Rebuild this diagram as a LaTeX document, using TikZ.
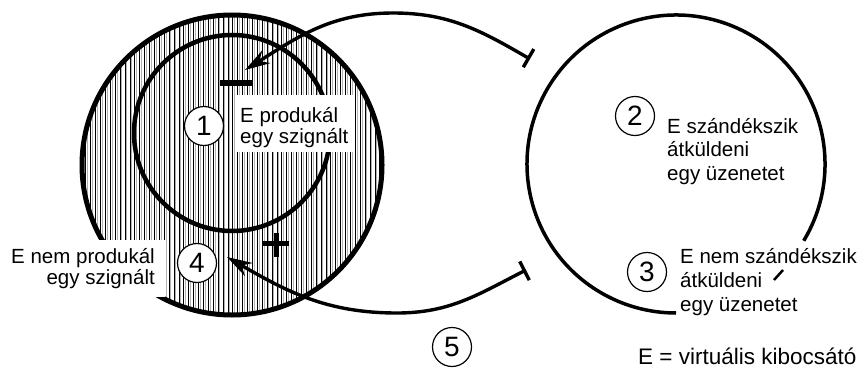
\documentclass[tikz,border=0pt]{standalone}
\usepackage{fontspec}
\setmainfont{Liberation Sans}
\usetikzlibrary{arrows.meta}
\begin{document}
\begin{tikzpicture}[x=1pt,y=1pt,
  lbl/.style={inner sep=0pt, font=\fontsize{20.5}{22}\selectfont},
  numc/.style={circle, draw, line width=1.2pt, fill=white, minimum size=39pt, inner sep=0pt, font=\fontsize{28}{30}\selectfont},
  flow/.style={line width=3.4pt, {Bar[width=21pt]}-{Stealth[length=25pt, width=15pt]}},
  hatchdark/.style={line width=0.95pt, black},
  hatchgray/.style={line width=0.6pt, black!30}
]
\useasboundingbox (0,0) rectangle (866,-369);

% hatching of the big left circle
\begin{scope}
  \clip (232,-165) circle[radius=150];
  \foreach \i in {0,...,62} {
    \draw[hatchdark] ({81+\i*4.9},-10) -- ++(0,-320);
    \draw[hatchgray] ({82.5+\i*4.9},-10) -- ++(0,-320);
  }
\end{scope}

% circles
\draw[line width=5pt] (232,-165) circle[radius=150];
\draw[line width=4.5pt] (232,-133) circle[radius=98];

% white patches behind labels
\fill[white] (235,-95) rectangle (355,-152);
\fill[white] (0,-240) rectangle (165,-297);

% right open circle
\draw[line width=3.5pt] (676,-164) ++(-31:149) arc[start angle=-31, end angle=270, radius=149];
\draw[line width=2.5pt] (774,-280) -- (783,-270);

% minus and plus signs
\draw[line width=6pt] (220,-83) -- (252,-83);
\draw[line width=5pt] (262,-243.5) -- (289,-243.5) (276,-233) -- (276,-257);

% end points of the feedback arcs
\coordinate (topbar) at (530,-59);
\coordinate (toppeak) at (393,-13);
\coordinate (toptip) at (245,-70);
\coordinate (botbar) at (526,-270);
\coordinate (botlow) at (397,-313);
\coordinate (bottip) at (227,-257);

\draw[flow] (topbar) to[out=150,in=0] (toppeak) to[out=180,in=32] (toptip);
\draw[flow] (botbar) to[out=207,in=0] (botlow) to[out=180,in=-30] (bottip);

% labels
\node[lbl, anchor=base west, font=\fontsize{20.5}{21.5}\selectfont] (t1) at (240,-122)
  {\begin{tabular}[t]{@{}l@{}}E produkál\\egy szignált\end{tabular}};
\node[lbl, anchor=base east, font=\fontsize{20.5}{21.5}\selectfont] (t4) at (155,-263)
  {\begin{tabular}[t]{@{}r@{}}E nem produkál\\egy szignált\end{tabular}};
\node[lbl, anchor=base west, font=\fontsize{20.5}{23.5}\selectfont] (t2) at (667,-133)
  {\begin{tabular}[t]{@{}l@{}}E szándékszik\\átküldeni\\egy üzenetet\end{tabular}};
\node[lbl, anchor=base west, font=\fontsize{20.5}{24}\selectfont] (t3) at (680,-263)
  {\begin{tabular}[t]{@{}l@{}}E nem szándékszik\\átküldeni\\egy üzenetet\end{tabular}};
\node[lbl, anchor=base west, font=\fontsize{22.5}{24}\selectfont] (leg) at (638,-364)
  {E = virtuális kibocsátó};

% numbered circles
\node[numc] (c1) at (204,-126) {1};
\node[numc] (c2) at (635,-116) {2};
\node[numc] (c3) at (647,-272) {3};
\node[numc] (c4) at (197,-263) {4};
\node[numc] (c5) at (452,-347) {5};
\end{tikzpicture}
\end{document}
